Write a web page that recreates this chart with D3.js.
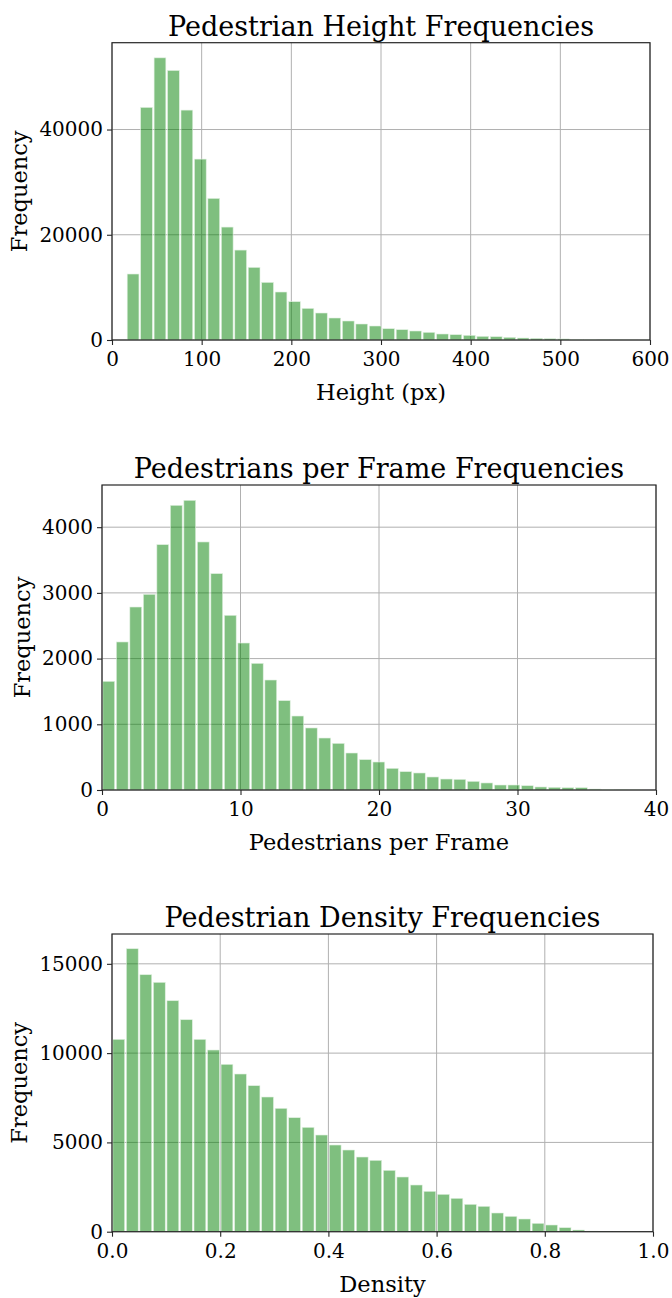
<!DOCTYPE html>
<html>
<head>
<meta charset="utf-8">
<script src="https://cdn.jsdelivr.net/npm/d3@7"></script>
<style>
    body { margin: 0; background: #fff; }
    svg text { font-family: "DejaVu Serif", serif; fill: #000; }
</style>
</head>
<body>
<div id="chart"></div>
<script>
// histogram counts, one entry per bin
var heightCounts = [12540, 44200, 53620, 51220, 43690, 34380, 26910, 21460, 17090, 13800,
    10950, 9120, 7280, 6010, 5130, 4180, 3610, 3040, 2660, 2150,
    1960, 1710, 1460, 1140, 1010, 890, 700, 630, 510, 380,
    320, 250, 200, 130, 80, 50, 30, 20, 10];
var pedCounts = [1654, 2253, 2785, 2978, 3734, 4333, 4409, 3775, 3293, 2659,
    2237, 1928, 1674, 1360, 1126, 944, 791, 710, 563, 462,
    426, 330, 279, 259, 198, 167, 162, 132, 107, 76,
    76, 65, 46, 41, 35, 35, 15, 10, 4, 2];
var densityCounts = [10772, 15845, 14390, 13964, 12934, 11870, 10772, 10174, 9373, 8830,
    8175, 7542, 6909, 6383, 5845, 5414, 4854, 4574, 4182, 3997,
    3438, 3063, 2615, 2262, 2094, 1870, 1534, 1422, 1047, 862,
    711, 470, 375, 224, 95, 30, 10, 4, 1, 0];

// bin start / bin width
var heightBins = [16, 15];
var pedBins = [0, 0.975];
var densityBins = [0, 0.025];

var heightTicksX = [0, 100, 200, 300, 400, 500, 600];
var heightTicksY = [0, 20000, 40000];
var pedTicksX = [0, 10, 20, 30, 40];
var pedTicksY = [0, 1000, 2000, 3000, 4000];
var densityTicksX = [0, 0.2, 0.4, 0.6, 0.8, 1.0];
var densityTicksY = [0, 5000, 10000, 15000];

var W = 672, H = 1298;
var svg = d3.select('#chart').append('svg').attr('width', W).attr('height', H);

var panels = [
    {
        title: 'Pedestrian Height Frequencies', xlabel: 'Height (px)',
        counts: heightCounts, bins: heightBins, xDomain: [0, 600], yMax: 56500,
        xTicks: heightTicksX, yTicks: heightTicksY, xFmt: d3.format('d'),
        box: {left: 112, right: 650, top: 42.7, bottom: 340}
    },
    {
        title: 'Pedestrians per Frame Frequencies', xlabel: 'Pedestrians per Frame',
        counts: pedCounts, bins: pedBins, xDomain: [0, 40], yMax: 4642,
        xTicks: pedTicksX, yTicks: pedTicksY, xFmt: d3.format('d'),
        box: {left: 102, right: 656, top: 485, bottom: 790}
    },
    {
        title: 'Pedestrian Density Frequencies', xlabel: 'Density',
        counts: densityCounts, bins: densityBins, xDomain: [0, 1], yMax: 16670,
        xTicks: densityTicksX, yTicks: densityTicksY, xFmt: d3.format('.1f'),
        box: {left: 112, right: 653, top: 934, bottom: 1231.7}
    }
];

panels.forEach(function (p, i) {
    var b = p.box;
    var x = d3.scaleLinear().domain(p.xDomain).range([b.left, b.right]);
    var y = d3.scaleLinear().domain([0, p.yMax]).range([b.bottom, b.top]);
    var g = svg.append('g');

    g.append('clipPath').attr('id', 'clip' + i).append('rect')
        .attr('x', b.left).attr('y', b.top)
        .attr('width', b.right - b.left).attr('height', b.bottom - b.top);

    // grid
    g.append('g').selectAll('line.gx').data(p.xTicks).enter().append('line')
        .attr('x1', function (d) { return x(d); }).attr('x2', function (d) { return x(d); })
        .attr('y1', b.top).attr('y2', b.bottom)
        .attr('stroke', '#b0b0b0').attr('stroke-width', 1);
    g.append('g').selectAll('line.gy').data(p.yTicks).enter().append('line')
        .attr('y1', function (d) { return y(d); }).attr('y2', function (d) { return y(d); })
        .attr('x1', b.left).attr('x2', b.right)
        .attr('stroke', '#b0b0b0').attr('stroke-width', 1);

    // bars
    var bins = p.counts.map(function (c, k) {
        return {x0: p.bins[0] + k * p.bins[1], x1: p.bins[0] + (k + 1) * p.bins[1], n: c};
    });
    g.append('g').attr('clip-path', 'url(#clip' + i + ')')
        .selectAll('rect').data(bins).enter().append('rect')
        .attr('x', function (d) { return x(d.x0) + 0.85; })
        .attr('width', function (d) { return Math.max(0, x(d.x1) - x(d.x0) - 1.7); })
        .attr('y', function (d) { return y(d.n); })
        .attr('height', function (d) { return y(0) - y(d.n); })
        .attr('fill', 'green').attr('fill-opacity', 0.5)
        .attr('stroke', '#dff0df').attr('stroke-width', 0.6);

    // frame
    g.append('rect')
        .attr('x', b.left).attr('y', b.top)
        .attr('width', b.right - b.left).attr('height', b.bottom - b.top)
        .attr('fill', 'none').attr('stroke', '#262626').attr('stroke-width', 1.2);

    var xAxis = d3.axisBottom(x).tickValues(p.xTicks).tickFormat(p.xFmt).tickSize(5).tickPadding(7);
    var yAxis = d3.axisLeft(y).tickValues(p.yTicks).tickFormat(d3.format('d')).tickSize(5).tickPadding(4);

    var gx = g.append('g').attr('transform', 'translate(0,' + b.bottom + ')').call(xAxis);
    var gy = g.append('g').attr('transform', 'translate(' + b.left + ',0)').call(yAxis);
    [gx, gy].forEach(function (a) {
        a.select('.domain').remove();
        a.selectAll('.tick line').attr('stroke', '#262626').attr('stroke-width', 1.1);
        a.selectAll('.tick text').attr('font-size', 20).attr('font-family', '"DejaVu Serif", serif');
    });

    var maxW = 0;
    gy.selectAll('.tick text').each(function () {
        maxW = Math.max(maxW, this.getComputedTextLength());
    });

    g.append('text')
        .attr('x', (b.left + b.right) / 2).attr('y', b.top - 7)
        .attr('text-anchor', 'middle').attr('font-size', 27)
        .text(p.title);

    g.append('text')
        .attr('x', (b.left + b.right) / 2).attr('y', b.bottom + 60)
        .attr('text-anchor', 'middle').attr('font-size', 22.5)
        .text(p.xlabel);

    var lx = b.left - 9 - maxW - 12;
    g.append('text')
        .attr('transform', 'translate(' + lx + ',' + ((b.top + b.bottom) / 2) + ') rotate(-90)')
        .attr('text-anchor', 'middle').attr('font-size', 22.5)
        .text('Frequency');
});
</script>
</body>
</html>
